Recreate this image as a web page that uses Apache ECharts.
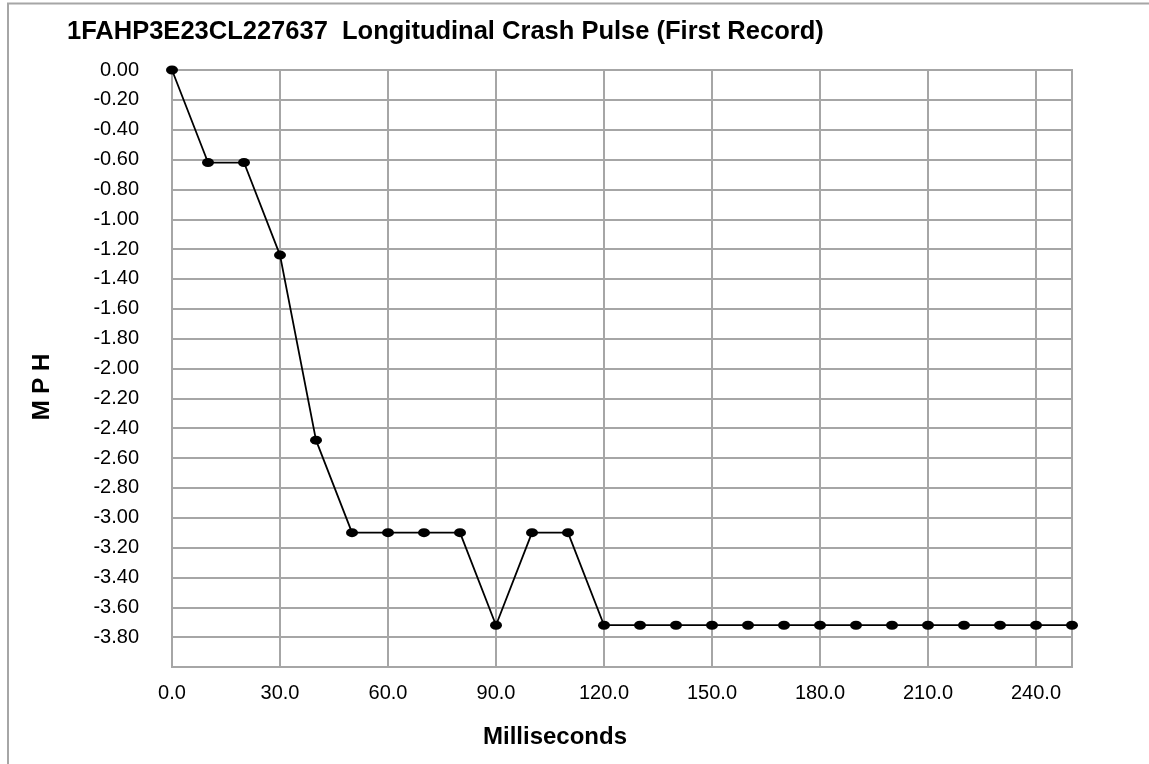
<!DOCTYPE html>
<html>
<head>
<meta charset="utf-8">
<script src="https://cdn.jsdelivr.net/npm/echarts@6/dist/echarts.min.js"></script>
<style>
  html, body { margin: 0; padding: 0; background: #fff; }
  #chart { width: 1149px; height: 764px; }
</style>
</head>
<body>
<div id="chart"></div>
<script>
// crash pulse samples, every 10 ms
const milliseconds = [0, 10, 20, 30, 40, 50, 60, 70, 80, 90, 100, 110, 120, 130,
  140, 150, 160, 170, 180, 190, 200, 210, 220, 230, 240, 250]
const mph = [0, -0.62, -0.62, -1.24, -2.48, -3.10, -3.10, -3.10, -3.10, -3.72, -3.10, -3.10,
  -3.72, -3.72, -3.72, -3.72, -3.72, -3.72, -3.72, -3.72, -3.72, -3.72, -3.72, -3.72, -3.72, -3.72]

const xTicks = [0, 30, 60, 90, 120, 150, 180, 210, 240]
const yTicks = [0, -0.2, -0.4, -0.6, -0.8, -1.0, -1.2, -1.4, -1.6, -1.8, -2.0,
  -2.2, -2.4, -2.6, -2.8, -3.0, -3.2, -3.4, -3.6, -3.8]

const titleText = '1FAHP3E23CL227637  Longitudinal Crash Pulse (First Record)'

const font = '"Liberation Sans", Arial, sans-serif'
const gray = '#a6a6a6'

const chart = echarts.init(document.getElementById('chart'))

const option = {
  animation: false,
  backgroundColor: '#fff',
  title: {
    text: titleText,
    left: 67,
    top: 19,
    padding: 0,
    textStyle: {fontFamily: font, fontSize: 25.5, fontWeight: 'bold', color: '#000'}
  },
  graphic: [
    // outer frame (only top and left edges are visible)
    {
      type: 'polyline',
      shape: {points: [[8, 770], [8, 3.5], [1160, 3.5]]},
      style: {stroke: gray, lineWidth: 2, fill: null}
    },
    {
      type: 'text',
      x: 555,
      y: 737,
      style: {
        text: 'Milliseconds', fontFamily: font, fontSize: 24, fontWeight: 'bold',
        fill: '#000', align: 'center', verticalAlign: 'middle'
      }
    },
    {
      type: 'text',
      x: 42,
      y: 387,
      rotation: Math.PI / 2,
      style: {
        text: 'M P H', fontFamily: font, fontSize: 24, fontWeight: 'bold',
        fill: '#000', align: 'center', verticalAlign: 'middle'
      }
    }
  ],
  grid: {
    left: 172,
    right: 77,
    top: 70,
    bottom: 97,
    show: true,
    borderColor: gray,
    borderWidth: 2
  },
  xAxis: {
    type: 'value',
    min: 0,
    max: 250,
    interval: 30,
    axisLine: {show: true, lineStyle: {color: gray, width: 2}},
    axisTick: {show: true, length: 7, customValues: xTicks.slice(1), lineStyle: {color: gray, width: 2}},
    axisLabel: {
      customValues: xTicks,
      margin: 16,
      color: '#000',
      fontFamily: font,
      fontSize: 20,
      formatter: v => v.toFixed(1)
    },
    splitLine: {show: true, lineStyle: {color: gray, width: 2}}
  },
  yAxis: {
    type: 'value',
    min: -4,
    max: 0,
    interval: 0.2,
    axisLine: {show: true, onZero: false, lineStyle: {color: gray, width: 2}},
    axisTick: {show: false},
    axisLabel: {
      customValues: yTicks,
      margin: 33,
      color: '#000',
      fontFamily: font,
      fontSize: 20,
      formatter: v => v.toFixed(2)
    },
    splitLine: {show: true, lineStyle: {color: gray, width: 2}}
  },
  series: [
    {
      type: 'line',
      data: milliseconds.map((t, i) => [t, mph[i]]),
      symbol: 'circle',
      symbolSize: [12, 9],
      showAllSymbol: true,
      lineStyle: {color: '#000', width: 1.8},
      itemStyle: {color: '#000'},
      clip: false
    }
  ]
}

chart.setOption(option)
</script>
</body>
</html>
